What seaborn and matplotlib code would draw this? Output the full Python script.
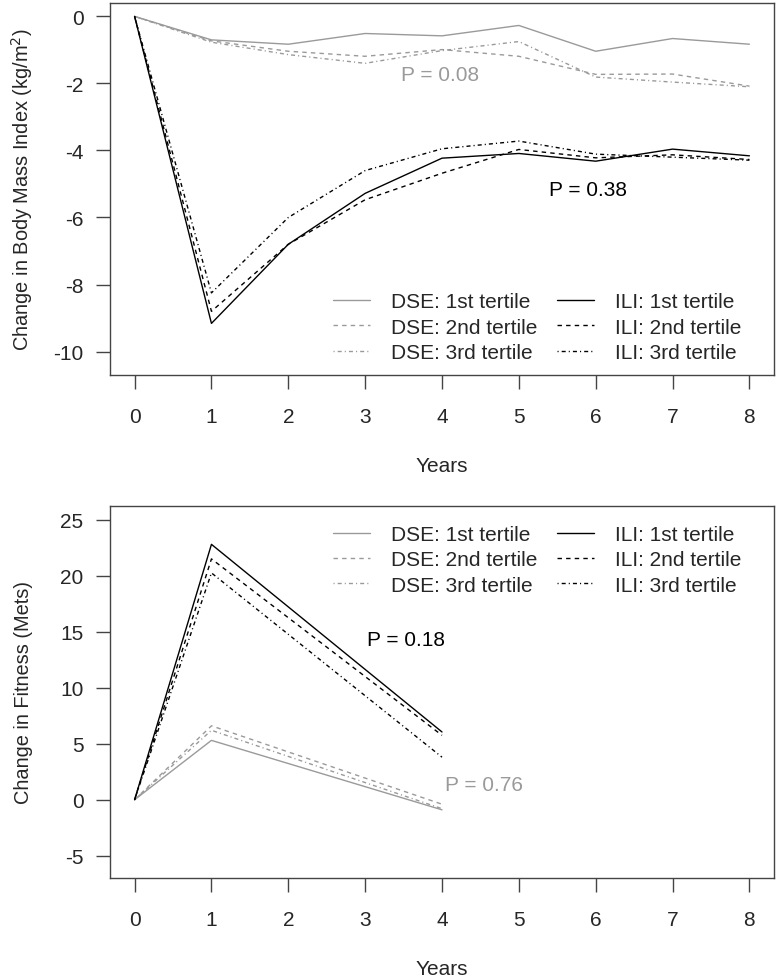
import matplotlib
matplotlib.use("Agg")
import matplotlib.pyplot as plt
import seaborn as sns
import pandas as pd
import numpy as np

# ---- data ----
years_bmi = [0, 1, 2, 3, 4, 5, 6, 7, 8]
dse1_bmi = [0, -0.70, -0.83, -0.51, -0.58, -0.27, -1.04, -0.66, -0.83]
dse2_bmi = [0, -0.73, -1.04, -1.19, -0.99, -1.19, -1.73, -1.72, -2.08]
dse3_bmi = [0, -0.77, -1.14, -1.40, -1.02, -0.75, -1.81, -1.96, -2.10]
ili1_bmi = [0, -9.16, -6.80, -5.28, -4.23, -4.09, -4.32, -3.96, -4.16]
ili2_bmi = [0, -8.80, -6.80, -5.47, -4.68, -3.97, -4.22, -4.13, -4.27]
ili3_bmi = [0, -8.25, -6.00, -4.60, -3.95, -3.72, -4.11, -4.20, -4.29]

years_fit = [0, 1, 4]
dse1_fit = [0, 5.3, -0.9]
dse2_fit = [0, 6.6, -0.4]
dse3_fit = [0, 6.2, -0.8]
ili1_fit = [0, 22.8, 6.05]
ili2_fit = [0, 21.5, 5.75]
ili3_fit = [0, 20.25, 3.8]

labels = ["DSE: 1st tertile", "DSE: 2nd tertile", "DSE: 3rd tertile",
          "ILI: 1st tertile", "ILI: 2nd tertile", "ILI: 3rd tertile"]

GRAY = "#9a9a9a"
colors = [GRAY, GRAY, GRAY, "black", "black", "black"]
dashes = [(None, None), (3.2, 3.0), (0.8, 2.2, 2.9, 2.2)] * 2
FS = 15

sns.set_style("white")
plt.rcParams['font.family'] = ['Liberation Sans', 'DejaVu Sans']
plt.rcParams['font.size'] = FS
plt.rcParams['axes.unicode_minus'] = False

fig = plt.figure(figsize=(7.76, 9.79), dpi=100)
W, H = 776.0, 979.0
ax1 = fig.add_axes([110 / W, 1 - 376 / H, 664 / W, 372 / H])
ax2 = fig.add_axes([110 / W, 1 - 878.7 / H, 664 / W, 372 / H])


def draw(ax, years, series):
    handles = []
    for vals, lab, col, d in zip(series, labels, colors, dashes):
        df = pd.DataFrame({"year": years, "val": vals})
        sns.lineplot(data=df, x="year", y="val", ax=ax, color=col, lw=1.0,
                     label=lab, legend=False)
        ln = ax.lines[-1]
        if d[0] is not None:
            ln.set_dashes(d)
        handles.append(ln)
    return handles


def style(ax, ylim, yticks, ylabel, ylab_px):
    ax.set_xlim(-0.32, 8.32)
    ax.set_ylim(*ylim)
    ax.set_xticks(range(0, 9))
    ax.set_yticks(yticks)
    for s in ax.spines.values():
        s.set_color("#444444")
        s.set_linewidth(1.0)
    ax.tick_params(axis="both", direction="out", length=10, width=1.0,
                   color="#444444", labelsize=FS, left=True, bottom=True)
    ax.tick_params(axis="x", pad=13)
    ax.tick_params(axis="y", pad=9)
    ax.set_xlabel("Years", fontsize=FS)
    ax.set_ylabel(ylabel, fontsize=14.4, va="center", ha="center")
    ax.xaxis.set_label_coords(0.5, -0.218)
    ax.yaxis.set_label_coords((ylab_px - 110) / 664, 0.5)


def leg(ax, handles, y):
    ax.legend(handles, labels, ncol=2, frameon=False, loc="upper left",
              bbox_to_anchor=(0.336, y), borderaxespad=0, borderpad=0,
              handlelength=1.78, handletextpad=1.0, columnspacing=0.96,
              labelspacing=0.3, fontsize=FS)


h1 = draw(ax1, years_bmi, [dse1_bmi, dse2_bmi, dse3_bmi, ili1_bmi, ili2_bmi, ili3_bmi])
style(ax1, (-10.7, 0.4), [0, -2, -4, -6, -8, -10],
      "Change in Body Mass Index (kg/m$^2$)", 22)
leg(ax1, h1, 0.222)
ax1.text(3.98, -1.72, "P = 0.08", color=GRAY, ha="center", va="center", fontsize=FS)
ax1.text(5.9, -5.15, "P = 0.38", color="black", ha="center", va="center", fontsize=FS)

h2 = draw(ax2, years_fit, [dse1_fit, dse2_fit, dse3_fit, ili1_fit, ili2_fit, ili3_fit])
style(ax2, (-6.96, 26.25), [-5, 0, 5, 10, 15, 20, 25],
      "Change in Fitness (Mets)", 24)
leg(ax2, h2, 0.948)
ax2.text(3.53, 14.28, "P = 0.18", color="black", ha="center", va="center", fontsize=FS)
ax2.text(4.55, 1.4, "P = 0.76", color=GRAY, ha="center", va="center", fontsize=FS)

fig.savefig("out.png", dpi=100)
